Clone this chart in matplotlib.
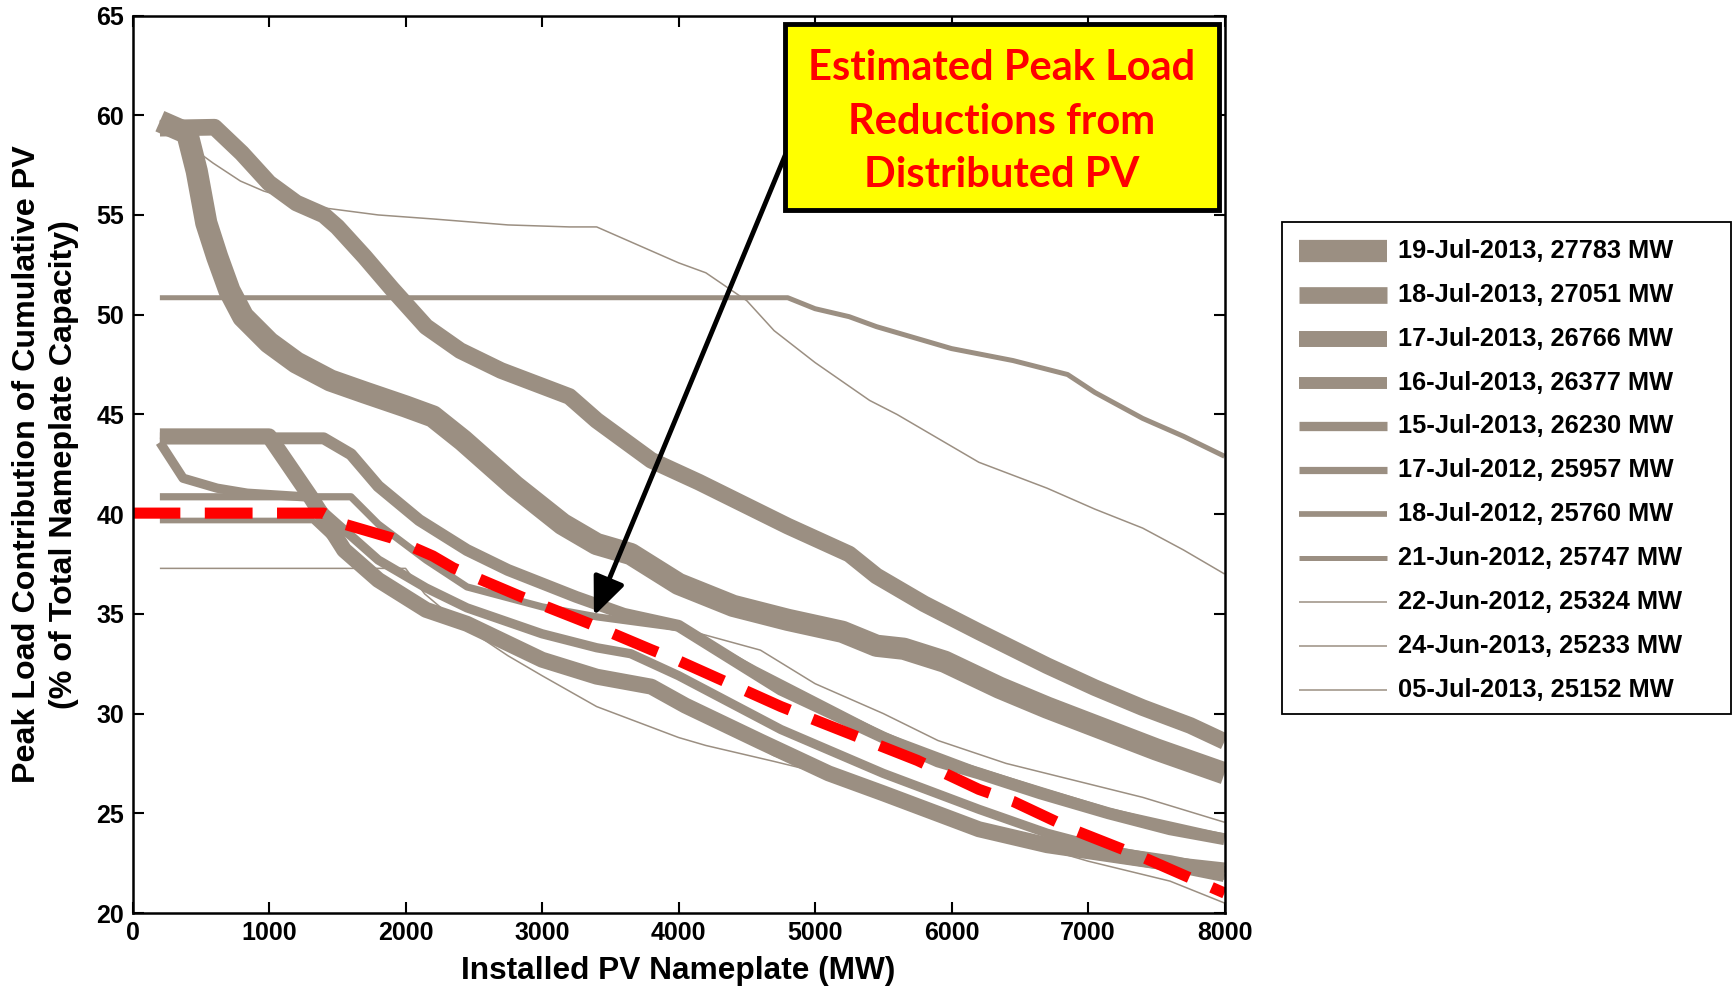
import matplotlib
matplotlib.use("Agg")
import matplotlib.pyplot as plt
import matplotlib.ticker as ticker
from matplotlib import rcParams, font_manager
from matplotlib.lines import Line2D
from matplotlib.patches import Rectangle

# installed PV nameplate (MW) vs peak load contribution (% of nameplate)
mw_19jul13 = [200, 400, 470, 540, 620, 710, 810, 1000, 1200, 1450, 1700, 2000, 2200, 2420, 2800,
              3150, 3400, 3650, 4000, 4400, 4800, 5200, 5450, 5650, 5950, 6350, 6700, 7100, 7500, 8000]
pct_19jul13 = [59.7, 59.1, 57.2, 54.6, 52.9, 51.2, 49.9, 48.6, 47.6, 46.7, 46.1, 45.4, 44.9, 43.7, 41.4,
               39.5, 38.5, 38.0, 36.5, 35.4, 34.7, 34.1, 33.4, 33.25, 32.6, 31.3, 30.3, 29.25, 28.2, 27.0]

mw_18jul13 = [200, 600, 800, 1000, 1200, 1400, 1500, 1700, 1900, 2150, 2400, 2700, 3200, 3400, 3800,
              4150, 4800, 5250, 5450, 5800, 6200, 6700, 7050, 7400, 7750, 8000]
pct_18jul13 = [59.35, 59.4, 58.1, 56.6, 55.6, 55.0, 54.4, 52.9, 51.3, 49.4, 48.2, 47.2, 45.9, 44.7, 42.7,
               41.6, 39.4, 38.0, 36.9, 35.5, 34.1, 32.4, 31.3, 30.3, 29.4, 28.6]

mw_17jul13 = [200, 1000, 1300, 1550, 1800, 2150, 2450, 3000, 3400, 3800, 4050, 4600, 5100, 5500,
              6200, 6700, 7200, 7600, 8000]
pct_17jul13 = [43.9, 43.9, 40.9, 38.2, 36.7, 35.2, 34.5, 32.7, 31.85, 31.35, 30.4, 28.6, 27.0, 26.0,
               24.2, 23.4, 22.9, 22.5, 21.95]

mw_16jul13 = [200, 1400, 1600, 1800, 2100, 2450, 2750, 3250, 3600, 4000, 4750, 5500, 5900, 6200,
              6650, 7150, 7600, 8000]
pct_16jul13 = [43.8, 43.8, 43.0, 41.4, 39.7, 38.2, 37.2, 35.85, 35.0, 34.4, 31.2, 28.8, 27.6, 27.0,
               26.0, 25.0, 24.2, 23.7]

mw_15jul13 = [200, 370, 620, 840, 1300, 1420, 1800, 2150, 2450, 3000, 3400, 3650, 4000, 4750, 5500,
              6200, 6700, 7200, 7600, 8000]
pct_15jul13 = [43.6, 41.8, 41.3, 41.05, 40.85, 40.0, 37.7, 36.3, 35.3, 34.0, 33.3, 33.0, 31.9, 29.2, 27.0,
               25.2, 24.0, 23.1, 22.6, 22.3]

mw_17jul12 = [200, 1600, 1800, 2150, 2450, 3000, 3400, 4000, 4560, 5500, 6200, 7150, 8000]
pct_17jul12 = [40.87, 40.87, 39.5, 37.7, 36.35, 35.35, 34.85, 34.3, 32.2, 28.9, 27.1, 25.1, 23.8]

mw_18jul12 = [200, 1320, 1550, 1700, 2150, 2500, 3000, 3400, 3800, 4050, 4700, 5500, 6200, 7000, 8000]
pct_18jul12 = [39.68, 39.68, 38.2, 37.3, 35.0, 34.2, 32.9, 32.0, 31.5, 30.6, 28.0, 25.9, 24.1, 22.9, 21.8]

mw_21jun12 = [200, 4800, 5000, 5250, 5450, 6000, 6450, 6850, 7050, 7400, 7700, 8000]
pct_21jun12 = [50.85, 50.85, 50.3, 49.9, 49.4, 48.3, 47.7, 47.0, 46.1, 44.8, 43.9, 42.9]

mw_22jun12 = [200, 350, 470, 590, 790, 960, 1350, 1800, 2200, 2750, 3200, 3400, 4000, 4200, 4500,
              4700, 5000, 5400, 5600, 6200, 6700, 7050, 7400, 7700, 8000]
pct_22jun12 = [59.7, 59.0, 58.2, 57.6, 56.7, 56.2, 55.4, 55.0, 54.8, 54.5, 54.4, 54.4, 52.6, 52.1, 50.7,
               49.2, 47.6, 45.7, 45.0, 42.6, 41.3, 40.25, 39.3, 38.2, 37.0]

mw_24jun13 = [200, 1400, 1600, 1800, 2100, 2450, 2750, 3250, 3600, 4000, 4200, 4600, 5000, 5500,
              5900, 6400, 6900, 7400, 8000]
pct_24jun13 = [43.8, 43.8, 43.0, 41.4, 39.7, 38.2, 37.2, 35.85, 35.0, 34.3, 33.93, 33.18, 31.5, 30.0,
               28.65, 27.5, 26.65, 25.8, 24.55]

mw_05jul13 = [200, 2000, 2140, 2400, 2750, 3000, 3400, 4000, 4200, 4700, 5300, 5900, 6500, 7000,
              7600, 8000]
pct_05jul13 = [37.28, 37.28, 36.0, 34.5, 32.9, 31.9, 30.35, 28.8, 28.4, 27.6, 26.6, 25.1, 23.6, 22.6,
               21.6, 20.5]

mw_estimate = [0, 1400, 1550, 1900, 2200, 2350, 2850, 3350, 3800, 4000, 4750, 5250, 5750, 6200, 6450,
               6900, 7400, 8000]
pct_estimate = [40.05, 40.05, 39.5, 38.8, 37.9, 37.3, 35.85, 34.5, 33.2, 32.65, 30.35, 29.0, 27.65, 26.2,
                25.6, 24.15, 22.8, 21.0]

labels = ["19-Jul-2013, 27783 MW", "18-Jul-2013, 27051 MW", "17-Jul-2013, 26766 MW",
          "16-Jul-2013, 26377 MW", "15-Jul-2013, 26230 MW", "17-Jul-2012, 25957 MW",
          "18-Jul-2012, 25760 MW", "21-Jun-2012, 25747 MW", "22-Jun-2012, 25324 MW",
          "24-Jun-2013, 25233 MW", "05-Jul-2013, 25152 MW"]

series = [(mw_19jul13, pct_19jul13), (mw_18jul13, pct_18jul13), (mw_17jul13, pct_17jul13),
          (mw_16jul13, pct_16jul13), (mw_15jul13, pct_15jul13), (mw_17jul12, pct_17jul12),
          (mw_18jul12, pct_18jul12), (mw_21jun12, pct_21jun12), (mw_22jun12, pct_22jun12),
          (mw_24jun13, pct_24jun13), (mw_05jul13, pct_05jul13)]
widths = [16, 12, 11.5, 8.6, 6.7, 5.2, 4.1, 3.6, 1.1, 1.1, 1.1]
grey = "#9b8f82"

names = {f.name for f in font_manager.fontManager.ttflist}
rcParams.update({"font.family": ["Liberation Sans", "DejaVu Sans"], "font.weight": "bold"})
tick_family = "Liberation Sans Narrow" if "Liberation Sans Narrow" in names else "Liberation Sans"
tick_size = 22 if tick_family == "Liberation Sans Narrow" else 18

fig = plt.figure(figsize=(17.33, 9.88), dpi=100)
ax = fig.add_axes([0.0765, 0.0759, 0.6301, 0.9084])

for (x, y), w in zip(series, widths):
    ax.plot(x, y, color=grey, lw=w, solid_capstyle="butt")

ax.plot(mw_estimate, pct_estimate, color="red", lw=8, dashes=(4.3, 2.2), dash_capstyle="butt")

ax.set_xlim(0, 8000)
ax.set_ylim(20, 65)
ax.xaxis.set_major_locator(ticker.MultipleLocator(1000))
ax.yaxis.set_major_locator(ticker.MultipleLocator(5))
ax.tick_params(direction="in", length=8, width=1.5, top=True, right=True, pad=6)
for lab in ax.get_xticklabels() + ax.get_yticklabels():
    lab.set_family(tick_family)
    lab.set_fontsize(tick_size)
    lab.set_fontweight("bold")
for sp in ax.spines.values():
    sp.set_linewidth(1.8)

ax.set_xlabel("Installed PV Nameplate (MW)", fontsize=22.8, fontweight="bold")
ax.xaxis.set_label_coords(0.5, -0.0646)
ax.xaxis.label.set_va("center")
ax.set_ylabel("Peak Load Contribution of Cumulative PV\n(% of Total Nameplate Capacity)",
              fontsize=23.2, fontweight="bold", linespacing=1.3)
ax.yaxis.set_label_coords(-0.0795, 0.5)
ax.yaxis.label.set_va("center")

# arrow from the call-out box down to the red curve
ax.annotate("", xy=(3380, 34.9), xytext=(4800, 58.3),
            arrowprops=dict(arrowstyle="-|>,head_length=1.3,head_width=0.55", color="black",
                            lw=3.5, mutation_scale=18, shrinkA=0, shrinkB=0))

# yellow call-out box
fig.add_artist(Rectangle((0.453, 0.7874), 0.2504, 0.1883, transform=fig.transFigure,
                         facecolor="yellow", edgecolor="black", lw=3.5, zorder=5))
fig.text(0.578, 0.877, "Estimated Peak Load\nReductions from\nDistributed PV", color="red",
         family=["Lato", "DejaVu Sans"], fontweight="bold", fontsize=30, ha="center", va="center",
         linespacing=1.5, zorder=6)

# legend drawn beside the axes
fig.add_artist(Rectangle((1282 / 1733, 1 - 714 / 988), 449 / 1733, 492 / 988,
                         transform=fig.transFigure, facecolor="white", edgecolor="black", lw=1.3))
for i, (lab, w) in enumerate(zip(labels, widths)):
    yy = 1 - (251 + 43.86 * i) / 988
    fig.add_artist(Line2D([1298.6 / 1733, 1387 / 1733], [yy, yy], transform=fig.transFigure,
                          color=grey, lw=w, solid_capstyle="butt"))
    fig.text(1398 / 1733, yy, lab, fontsize=18.3, fontweight="bold", va="center", ha="left")

fig.savefig("out.png", dpi=100)
